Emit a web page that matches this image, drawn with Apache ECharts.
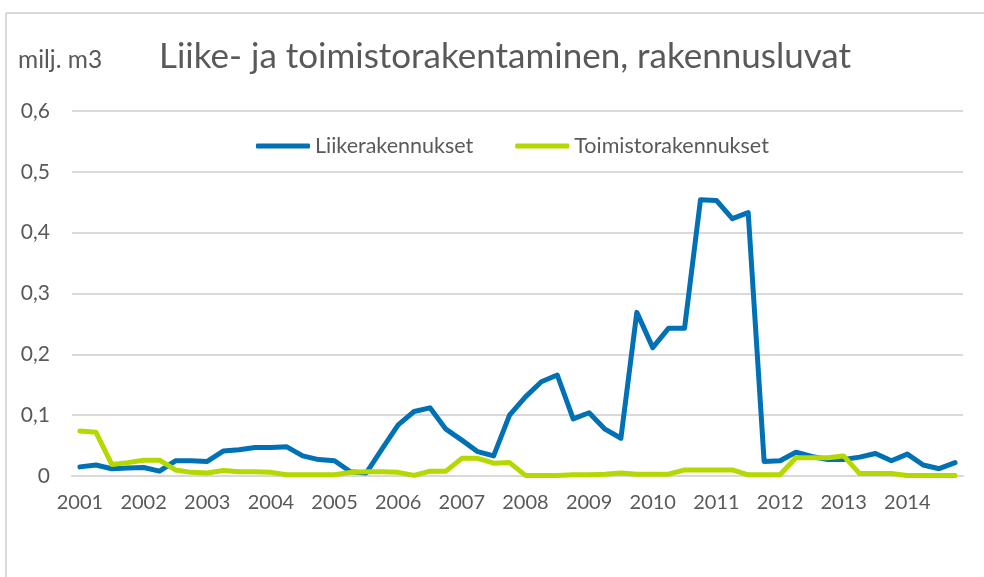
<!DOCTYPE html>
<html>
<head>
<meta charset="utf-8">
<script src="https://cdn.jsdelivr.net/npm/echarts@6/dist/echarts.min.js"></script>
<style>
  html, body { margin: 0; padding: 0; background: #fff; }
  #chart { width: 984px; height: 577px; }
</style>
</head>
<body>
<div id="chart"></div>
<script>
var years = [2001, 2002, 2003, 2004, 2005, 2006, 2007, 2008, 2009, 2010, 2011, 2012, 2013, 2014];
var quarters = ['Q1', 'Q2', 'Q3', 'Q4'];

// liikerakennukset, milj. m3 per quarter
var liike = [
  0.015, 0.018, 0.012, 0.013, 0.014, 0.008, 0.025, 0.025, 0.024, 0.041, 0.043, 0.047,
  0.047, 0.048, 0.033, 0.027, 0.025, 0.007, 0.005, 0.045, 0.084, 0.106, 0.112, 0.077,
  0.059, 0.040, 0.033, 0.100, 0.130, 0.155, 0.166, 0.094, 0.104, 0.077, 0.062, 0.269,
  0.211, 0.243, 0.243, 0.454, 0.453, 0.423, 0.433, 0.024, 0.025, 0.039, 0.032, 0.027,
  0.027, 0.031, 0.037, 0.025, 0.036, 0.018, 0.012, 0.022
];
// toimistorakennukset
var toimisto = [
  0.074, 0.072, 0.019, 0.022, 0.026, 0.026, 0.010, 0.006, 0.005, 0.009, 0.007, 0.007,
  0.006, 0.002, 0.002, 0.002, 0.002, 0.006, 0.007, 0.007, 0.006, 0.001, 0.008, 0.008,
  0.029, 0.029, 0.021, 0.022, 0.001, 0.001, 0.001, 0.002, 0.002, 0.003, 0.005, 0.003,
  0.003, 0.003, 0.010, 0.010, 0.010, 0.010, 0.002, 0.002, 0.002, 0.030, 0.030, 0.030,
  0.033, 0.004, 0.004, 0.004, 0.001, 0.001, 0.001, 0.001
];

var categories = [];
years.forEach(function (y) {
  quarters.forEach(function (q) { categories.push(y + ' ' + q); });
});

var font = 'Lato, "Open Sans", sans-serif';
var grey = '#595959';

var chart = echarts.init(document.getElementById('chart'));
chart.setOption({
  backgroundColor: '#fff',
  animation: false,
  textStyle: { fontFamily: font, color: grey },
  graphic: [
    { type: 'line', shape: { x1: 6, y1: 13, x2: 984, y2: 13 }, style: { stroke: '#d9d9d9', lineWidth: 2 } },
    { type: 'line', shape: { x1: 6, y1: 13, x2: 6, y2: 577 }, style: { stroke: '#d9d9d9', lineWidth: 2 } },
    { type: 'text', left: 18, top: 48, style: { text: 'milj. m3', fontSize: 24.5, fontFamily: font, fill: grey } }
  ],
  title: {
    text: 'Liike- ja toimistorakentaminen, rakennusluvat',
    left: 154,
    top: 34,
    textStyle: { fontSize: 35, fontWeight: 'normal', color: grey, fontFamily: font }
  },
  legend: {
    left: 251,
    top: 130,
    itemWidth: 54,
    itemHeight: 5,
    itemGap: 42,
    icon: 'roundRect',
    textStyle: { fontSize: 21.5, color: grey, fontFamily: font },
    data: ['Liikerakennukset', 'Toimistorakennukset']
  },
  grid: { left: 72, right: 21, top: 111, bottom: 101 },
  xAxis: {
    type: 'category',
    data: categories,
    boundaryGap: true,
    axisLine: { lineStyle: { color: '#d9d9d9', width: 2 } },
    axisTick: { show: false },
    axisLabel: {
      interval: 3,
      margin: 17,
      fontSize: 20,
      color: grey,
      fontFamily: font,
      formatter: function (v) { return v.split(' ')[0]; }
    }
  },
  yAxis: {
    type: 'value',
    min: 0,
    max: 0.6,
    interval: 0.1,
    axisLine: { show: false },
    axisTick: { show: false },
    splitLine: { lineStyle: { color: '#d9d9d9', width: 2 } },
    axisLabel: {
      margin: 22,
      fontSize: 21,
      color: grey,
      fontFamily: font,
      formatter: function (v) { return v === 0 ? '0' : v.toFixed(1).replace('.', ','); }
    }
  },
  series: [
    {
      name: 'Liikerakennukset',
      type: 'line',
      data: liike,
      showSymbol: false,
      color: '#0071B5',
      lineStyle: { width: 5, cap: 'round', join: 'round' }
    },
    {
      name: 'Toimistorakennukset',
      type: 'line',
      data: toimisto,
      showSymbol: false,
      color: '#B5D800',
      lineStyle: { width: 5, cap: 'round', join: 'round' }
    }
  ]
});
</script>
</body>
</html>
